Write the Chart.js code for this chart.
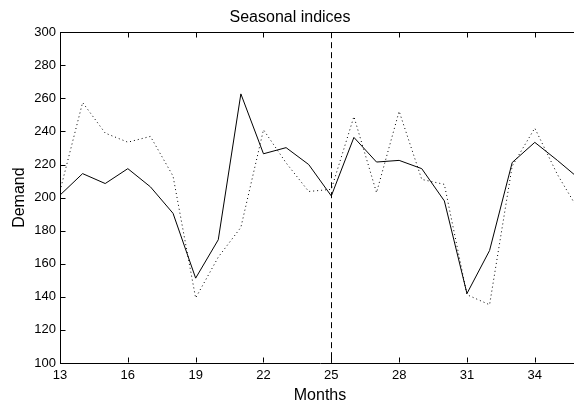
<!DOCTYPE html>
<html>
<head>
<meta charset="utf-8">
<script src="https://cdn.jsdelivr.net/npm/chart.js@4"></script>
<style>
  html, body { margin: 0; padding: 0; background: #fff; overflow: hidden; }
  canvas { display: block; }
</style>
</head>
<body>
<canvas id="chart" width="582" height="406"></canvas>
<script>
// Datos
const months = [13, 14, 15, 16, 17, 18, 19, 20, 21, 22, 23, 24, 25, 26, 27, 28, 29, 30, 31, 32, 33, 34, 35, 36];
const demandSolid = [201.5, 214.5, 208.5, 217.5, 206.5, 190.5, 151.3, 174.5, 262.7, 226.5, 230.2, 220,
                     201, 236.4, 221.5, 222.5, 217.5, 198, 142, 168, 221.2, 233.4, 222.5, 211];
const demandDotted = [204, 257.5, 239, 233.5, 237, 213, 139.3, 164, 182, 241, 221, 203.7,
                      205, 249, 203, 252.2, 211, 208, 141.3, 135.2, 219, 242, 214, 191];
const xTicks = [13, 16, 19, 22, 25, 28, 31, 34];
const splitMonth = 25;

const FONT = '"Liberation Sans", Arial, Helvetica, sans-serif';
Chart.defaults.font.family = FONT;
Chart.defaults.color = '#000';

const toPoints = ys => months.map((m, i) => ({ x: m, y: ys[i] }));

// Ticks hacia dentro, borde superior y línea vertical discontinua
const framePlugin = {
    id: 'frame',
    afterDatasetsDraw(chart) {
        const { ctx, chartArea: a, scales: { x, y } } = chart;
        ctx.save();
        ctx.strokeStyle = '#000';
        ctx.lineWidth = 1;

        // línea discontinua en el mes de corte
        const sx = Math.round(x.getPixelForValue(splitMonth)) + 0.5;
        ctx.setLineDash([6, 4]);
        ctx.beginPath();
        ctx.moveTo(sx, a.top);
        ctx.lineTo(sx, a.bottom);
        ctx.stroke();
        ctx.setLineDash([]);

        // borde superior
        const top = Math.round(a.top) + 0.5;
        ctx.beginPath();
        ctx.moveTo(a.left, top);
        ctx.lineTo(a.right, top);
        ctx.stroke();

        // ticks del eje x (abajo y arriba)
        const bottom = Math.round(a.bottom) - 0.5;
        ctx.beginPath();
        x.ticks.forEach(t => {
            const px = Math.round(x.getPixelForValue(t.value)) + 0.5;
            ctx.moveTo(px, bottom);
            ctx.lineTo(px, bottom - 5);
            ctx.moveTo(px, top);
            ctx.lineTo(px, top + 5);
        });
        // ticks del eje y
        const left = Math.round(a.left) + 0.5;
        y.ticks.forEach(t => {
            const py = Math.round(y.getPixelForValue(t.value)) + 0.5;
            ctx.moveTo(left, py);
            ctx.lineTo(left + 5, py);
        });
        ctx.stroke();
        ctx.restore();
    }
};

const ctx = document.getElementById('chart').getContext('2d');
new Chart(ctx, {
    type: 'line',
    data: {
        datasets: [
            {
                label: 'Solid',
                data: toPoints(demandSolid),
                borderColor: '#000',
                borderWidth: 1,
                pointRadius: 0,
                tension: 0,
            },
            {
                label: 'Dotted',
                data: toPoints(demandDotted),
                borderColor: '#000',
                borderWidth: 1,
                borderDash: [1, 3],
                pointRadius: 0,
                tension: 0,
            },
        ],
    },
    options: {
        responsive: false,
        animation: false,
        layout: { padding: { left: 0, right: 2, top: 0, bottom: 0 } },
        plugins: {
            legend: { display: false },
            tooltip: { enabled: false },
            title: {
                display: true,
                text: 'Seasonal indices',
                font: { size: 16, weight: 'normal' },
                color: '#000',
                padding: { top: 8, bottom: 5 },
            },
        },
        scales: {
            x: {
                type: 'linear',
                min: 13,
                max: 36,
                afterBuildTicks: s => { s.ticks = xTicks.map(v => ({ value: v })); },
                afterFit: s => { s.height = 43; },
                grid: { drawOnChartArea: false, drawTicks: false },
                border: { color: '#000', width: 1 },
                ticks: { font: { size: 13 }, color: '#000', padding: 5, maxRotation: 0, autoSkip: false },
                title: { display: true, text: 'Months', font: { size: 16 }, color: '#000', padding: { top: 0, bottom: 1 } },
            },
            y: {
                min: 100,
                max: 300,
                afterFit: s => { s.width = 60; },
                grid: { drawOnChartArea: false, drawTicks: false },
                border: { color: '#000', width: 1 },
                ticks: { stepSize: 20, font: { size: 13 }, color: '#000', padding: 4 },
                title: { display: true, text: 'Demand', font: { size: 16 }, color: '#000', padding: { top: 10, bottom: 0 } },
            },
        },
    },
    plugins: [framePlugin],
});
</script>
</body>
</html>
